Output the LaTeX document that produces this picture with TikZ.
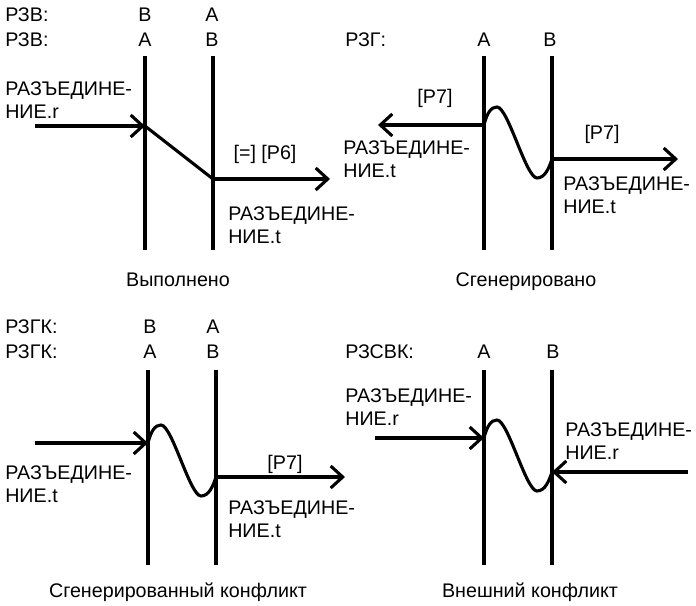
\documentclass[tikz,border=0pt]{standalone}
\usepackage{fontspec}
\setmainfont{Liberation Sans}
\usetikzlibrary{arrows.meta}

\tikzset{
  bar/.style={line width=2.2pt},
  msg/.style={line width=2.2pt, -{Straight Barb[length=3mm,width=5.5mm]}},
  txt/.style={inner sep=0pt, font=\fontsize{14}{16.5}\selectfont},
  txtl/.style={txt, anchor=base west},
  txtc/.style={txt, anchor=base},
  two/.style={txt, align=left, anchor=north west},
}

\begin{document}
\begin{tikzpicture}[x=0.025cm, y=0.025cm]
\useasboundingbox (0,0) rectangle (696,-605);

%Done
\node[txtl] (h1a) at (5,-21.5) {РЗВ:};
\node[txtl] (h1b) at (5,-46.5) {РЗВ:};
\node[txtc] (c1a) at (145,-21.5) {В};
\node[txtc] (c1b) at (212,-21.5) {А};
\node[txtc] (c1c) at (145,-46.5) {А};
\node[txtc] (c1d) at (212,-46.5) {В};
\draw[bar] (145,-56) -- (145,-250);
\draw[bar] (213,-56) -- (213,-250);
\coordinate (In1) at (35,-126);
\coordinate (A1) at (145,-126);
\coordinate (B1) at (213,-179);
\coordinate (Out1) at (330,-179);
\draw[msg] (In1) -- (A1);
\draw[bar] (A1) -- (B1);
\draw[msg] (B1) -- (Out1);
\node[two] (m1a) at (5,-81.5) {РАЗЪЕДИНЕ-\\НИЕ.r};
\node[txtc] (p1) at (265,-159.5) {[=] [Р6]};
\node[two] (m1b) at (228,-206.5) {РАЗЪЕДИНЕ-\\НИЕ.t};
\node[txtc] (t1) at (178,-286.5) {Выполнено};

%Generated
\node[txtl] (h2) at (345,-46.5) {РЗГ:};
\node[txtc] (c2a) at (484,-46.5) {А};
\node[txtc] (c2b) at (550,-46.5) {В};
\draw[bar] (484,-56) -- (484,-250);
\draw[bar] (552,-56) -- (552,-250);
\coordinate (A2) at (484,-125);
\coordinate (B2) at (552,-159);
\coordinate (Out2a) at (378,-125);
\coordinate (Out2b) at (678,-159);
\draw[msg] (A2) -- (Out2a);
\draw[bar] (A2) .. controls (487,-113) and (491,-107) .. (497,-107)
  .. controls (508,-107) and (526,-178) .. (537,-178)
  .. controls (545,-178) and (549,-168) .. (B2);
\draw[msg] (B2) -- (Out2b);
\node[txtc] (p2a) at (435,-103.5) {[Р7]};
\node[two] (m2a) at (343,-140.5) {РАЗЪЕДИНЕ-\\НИЕ.t};
\node[txtc] (p2b) at (602,-139.5) {[Р7]};
\node[two] (m2b) at (563,-176.5) {РАЗЪЕДИНЕ-\\НИЕ.t};
\node[txtc] (t2) at (526,-286.5) {Сгенерировано};

%Generated conflict
\node[txtl] (h3a) at (5,-333.5) {РЗГК:};
\node[txtl] (h3b) at (5,-358.5) {РЗГК:};
\node[txtc] (c3a) at (150,-333.5) {В};
\node[txtc] (c3b) at (213,-333.5) {А};
\node[txtc] (c3c) at (150,-358.5) {А};
\node[txtc] (c3d) at (213,-358.5) {В};
\draw[bar] (148,-370) -- (148,-565);
\draw[bar] (216,-370) -- (216,-565);
\coordinate (In3) at (35,-443);
\coordinate (A3) at (148,-443);
\coordinate (B3) at (216,-477);
\coordinate (Out3) at (345,-477);
\draw[msg] (In3) -- (A3);
\draw[bar] (A3) .. controls (151,-431) and (155,-425) .. (161,-425)
  .. controls (172,-425) and (190,-496) .. (201,-496)
  .. controls (209,-496) and (213,-486) .. (B3);
\draw[msg] (B3) -- (Out3);
\node[two] (m3a) at (5,-465.5) {РАЗЪЕДИНЕ-\\НИЕ.t};
\node[txtc] (p3) at (285,-469.5) {[Р7]};
\node[two] (m3b) at (228,-500.5) {РАЗЪЕДИНЕ-\\НИЕ.t};
\node[txtc] (t3) at (178,-597.5) {Сгенерированный конфликт};

%External conflict
\node[txtl] (h4) at (345,-358.5) {РЗСВК:};
\node[txtc] (c4a) at (484,-358.5) {А};
\node[txtc] (c4b) at (553,-358.5) {В};
\draw[bar] (484,-370) -- (484,-565);
\draw[bar] (552,-370) -- (552,-565);
\coordinate (In4a) at (375,-438);
\coordinate (A4) at (484,-438);
\coordinate (B4) at (552,-472);
\coordinate (In4b) at (688,-472);
\draw[msg] (In4a) -- (A4);
\draw[bar] (A4) .. controls (487,-426) and (491,-420) .. (497,-420)
  .. controls (508,-420) and (526,-491) .. (537,-491)
  .. controls (545,-491) and (549,-481) .. (B4);
\draw[msg] (In4b) -- (B4);
\node[two] (m4a) at (345,-388.5) {РАЗЪЕДИНЕ-\\НИЕ.r};
\node[two] (m4b) at (565,-422.5) {РАЗЪЕДИНЕ-\\НИЕ.r};
\node[txtc] (t4) at (530,-597.5) {Внешний конфликт};

\end{tikzpicture}
\end{document}
